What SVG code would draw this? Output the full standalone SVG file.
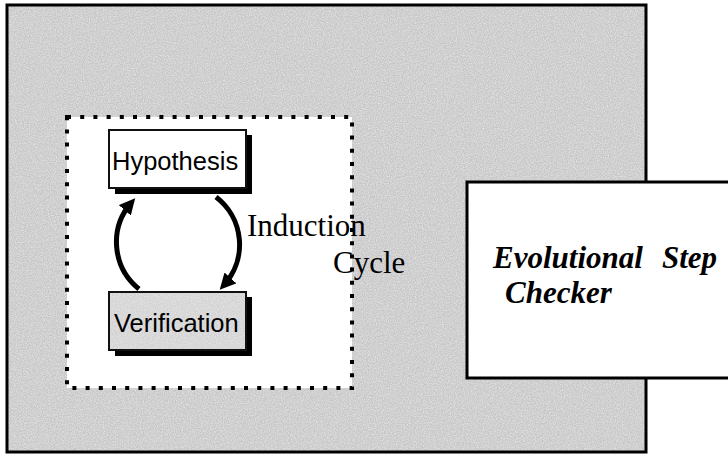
<svg xmlns="http://www.w3.org/2000/svg" width="728" height="455" viewBox="0 0 728 455">
  <style>
    .frame { stroke: #000; stroke-width: 3; }
    .box { stroke: #111; stroke-width: 2; }
    .shadow { fill: #000; }
    .sans { font-family: "Liberation Sans", Arial, sans-serif; font-size: 25.5px; fill: #000; }
    .serif { font-family: "Liberation Serif", "Times New Roman", serif; font-size: 31px; fill: #000; }
    .title { font-family: "Liberation Serif", "Times New Roman", serif; font-size: 31px; font-weight: bold; font-style: italic; fill: #000; }
    .cycle { fill: none; stroke: #000; stroke-width: 5; stroke-linecap: butt; }
    .dots { fill: none; stroke: #000; stroke-width: 4; stroke-dasharray: 4 9.2; }
  </style>
  <defs>
    <!-- speckled white grain laid over flat grey fills -->
    <filter id="grain" x="0" y="0" width="100%" height="100%">
      <feTurbulence type="fractalNoise" baseFrequency="0.85" numOctaves="2" seed="3" result="n"/>
      <feColorMatrix in="n" type="matrix" values="0 0 0 0 1  0 0 0 0 1  0 0 0 0 1  0 0 0 -1.6 1.1" result="a"/>
      <feComposite in="a" in2="SourceGraphic" operator="in"/>
    </filter>
    <marker id="head" viewBox="0 0 10 10" refX="6" refY="5" markerWidth="3.2" markerHeight="3.2" orient="auto" markerUnits="strokeWidth">
      <path d="M0,0 L10,5 L0,10 z" fill="#000"/>
    </marker>
  </defs>

  <rect width="728" height="455" fill="#fff"/>

  <!-- shaded environment panel -->
  <g id="environment">
    <rect x="7" y="5" width="639" height="447" fill="#c6c6c6"/>
    <rect x="7" y="5" width="639" height="447" fill="#fff" opacity="0.6" filter="url(#grain)"/>
    <rect x="7" y="5" width="639" height="447" fill="none" class="frame"/>
  </g>

  <!-- dotted induction area -->
  <g id="induction-area">
    <rect x="67" y="117" width="285" height="271" fill="#fff"/>
    <rect x="67" y="117" width="285" height="271" class="dots"/>
  </g>

  <g id="hypothesis">
    <rect x="115" y="135" width="137" height="59" class="shadow"/>
    <rect x="109" y="130" width="137" height="58" fill="#fff" class="box"/>
    <text x="112" y="170" class="sans">Hypothesis</text>
  </g>

  <g id="verification">
    <rect x="115" y="297" width="137" height="59" class="shadow"/>
    <rect x="109" y="292" width="137" height="58" fill="#d2d2d2" class="box"/>
    <rect x="110" y="293" width="135" height="56" fill="#fff" opacity="0.5" filter="url(#grain)"/>
    <text x="114" y="332" class="sans">Verification</text>
  </g>

  <!-- induction cycle arrows -->
  <g id="connectors">
    <path d="M139,289 A60,60 0 0 1 131,203" class="cycle" marker-end="url(#head)"/>
    <path d="M216,197 A60,60 0 0 1 224,285" class="cycle" marker-end="url(#head)"/>
  </g>

  <g id="cycle-label">
    <text x="247" y="236" class="serif">Induction</text>
    <text x="333" y="273" class="serif">Cycle</text>
  </g>

  <g id="step-checker">
    <rect x="467" y="182" width="270" height="196" fill="#fff" class="frame"/>
    <text x="493" y="268" class="title">Evolutional</text>
    <text x="662" y="268" class="title">Step</text>
    <text x="505" y="303" class="title">Checker</text>
  </g>
</svg>
